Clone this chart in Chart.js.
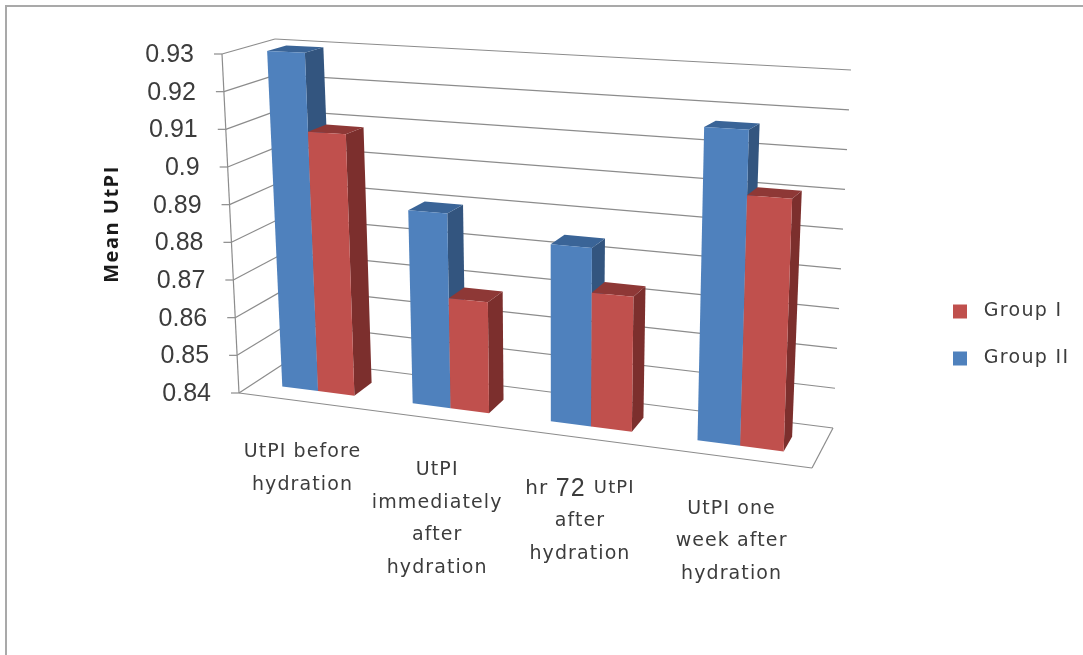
<!DOCTYPE html>
<html>
<head>
<meta charset="utf-8">
<script src="https://cdn.jsdelivr.net/npm/chart.js@4"></script>
<style>
  html, body { margin: 0; padding: 0; background: #fff; overflow: hidden; }
  #frame { position: absolute; left: 5px; top: 5px; width: 1078px; height: 650px; border-top: 2px solid #a9a9a9; border-left: 2px solid #a9a9a9; box-sizing: border-box; }
  #chart { position: absolute; left: 0; top: 0; filter: blur(0.5px); }
</style>
</head>
<body>
<div id="frame"></div>
<canvas id="chart" width="1083" height="655"></canvas>
<script>
const categories = [
    ['UtPI before', 'hydration'],
    ['UtPI', 'immediately', 'after', 'hydration'],
    ['hr 72 UtPI', 'after', 'hydration'],
    ['UtPI one', 'week after', 'hydration']
];
const groupII = [0.93, 0.8903, 0.8847, 0.9167];
const groupI = [0.909, 0.8684, 0.8735, 0.9008];
const yTicks = [0.84, 0.85, 0.86, 0.87, 0.88, 0.89, 0.9, 0.91, 0.92, 0.93];
const axisTitle = 'Mean UtPI';

// corners of the 3d box as seen in the picture, the scales are mapped onto it
const front = { tl: [222, 54], tr: [825, 83], bl: [239, 393], br: [812, 468] };
const back = { tl: [275, 39], tr: [851, 70], bl: [291, 359], br: [833, 428] };
const xPerspective = 1.126;
const barDepth = [0.3, 0.67];

const lerp = (a, b, t) => a + (b - a) * t;
const lerpPt = (a, b, t) => [lerp(a[0], b[0], t), lerp(a[1], b[1], t)];

function project(xn, yn, z) {
    const xt = xn / (xn + xPerspective * (1 - xn));
    const onPlane = (p) => lerpPt(lerpPt(p.bl, p.br, xt), lerpPt(p.tl, p.tr, xt), yn);
    return lerpPt(onPlane(front), onPlane(back), z);
}

function poly(ctx, pts, color) {
    ctx.beginPath();
    pts.forEach((p, i) => i ? ctx.lineTo(p[0], p[1]) : ctx.moveTo(p[0], p[1]));
    ctx.closePath();
    ctx.fillStyle = color;
    ctx.fill();
}

function line(ctx, a, b) {
    ctx.beginPath();
    ctx.moveTo(a[0], a[1]);
    ctx.lineTo(b[0], b[1]);
    ctx.stroke();
}

// the "72" in the third label is set bigger in the original
function labelLine(ctx, txt, x, y) {
    const parts = txt.split(/(72 )/);
    if (parts.length === 1) {
        ctx.font = '19px "DejaVu Sans"';
        ctx.fillText(txt, x, y);
        return;
    }
    const fonts = ['20px "DejaVu Sans"', '25px "Liberation Sans"', '18px "DejaVu Sans"'];
    const widths = parts.map((p, i) => { ctx.font = fonts[i]; return ctx.measureText(p).width; });
    let cx = x - widths.reduce((a, b) => a + b, 0) / 2;
    ctx.textAlign = 'left';
    parts.forEach((p, i) => {
        ctx.font = fonts[i];
        ctx.fillText(p, cx, y);
        cx += widths[i];
    });
    ctx.textAlign = 'center';
}

const box3d = {
    id: 'box3d',
    afterLayout(chart) {
        // legend sits lower than the plot
        const lg = chart.legend;
        lg.left = 953 - lg.options.labels.padding;
        lg.top = 235;
        lg.bottom = 435;
    },
    beforeDraw(chart) {
        chart.ctx.letterSpacing = '1.3px';
    },
    beforeDatasetsDraw(chart) {
        const { ctx, chartArea: area, scales } = chart;
        const xn = (px) => (px - area.left) / (area.right - area.left);
        const yn = (px) => (area.bottom - px) / (area.bottom - area.top);

        // walls and floor
        ctx.save();
        ctx.strokeStyle = '#8c8c8c';
        ctx.lineWidth = 1.2;
        yTicks.forEach((v) => {
            const t = yn(scales.y.getPixelForValue(v));
            const a = project(0, t, 0);
            const b = project(0, t, 1);
            const c = project(1, t, 1);
            line(ctx, [a[0] - 8, a[1]], a);
            line(ctx, a, b);
            line(ctx, b, c);
        });
        line(ctx, project(0, 0, 0), project(0, 1, 0));
        line(ctx, project(0, 0, 0), project(1, 0, 0));
        line(ctx, project(1, 0, 0), project(1, 0, 1));
        ctx.restore();

        // bars, left to right so the later ones cover the side of the earlier ones
        const faces = [
            { front: '#4f81bd', side: '#33557f', top: '#3a6497' },
            { front: '#c0504d', side: '#7c2f2d', top: '#8e3836' }
        ];
        categories.forEach((_, j) => {
            chart.data.datasets.forEach((ds, i) => {
                const bar = chart.getDatasetMeta(i).data[j];
                const x0 = xn(bar.x - bar.width / 2);
                const x1 = xn(bar.x + bar.width / 2);
                const top = yn(bar.y);
                const [z0, z1] = barDepth;
                poly(ctx, [project(x1, 0, z0), project(x1, 0, z1), project(x1, top, z1), project(x1, top, z0)], faces[i].side);
                poly(ctx, [project(x0, top, z0), project(x1, top, z0), project(x1, top, z1), project(x0, top, z1)], faces[i].top);
                poly(ctx, [project(x0, 0, z0), project(x1, 0, z0), project(x1, top, z0), project(x0, top, z0)], faces[i].front);
            });
        });

        // tick labels follow the slanted axis
        ctx.save();
        ctx.fillStyle = '#3c3c3c';
        ctx.textBaseline = 'middle';
        ctx.textAlign = 'right';
        ctx.letterSpacing = '0px';
        ctx.font = '25px "Liberation Sans"';
        yTicks.forEach((v) => {
            const a = project(0, yn(scales.y.getPixelForValue(v)), 0);
            ctx.fillText(String(v), a[0] - 28, a[1] + 1);
        });

        ctx.textAlign = 'center';
        ctx.letterSpacing = '1.1px';
        categories.forEach((lines, j) => {
            const a = project(xn(scales.x.getPixelForValue(j)), 0, 0);
            lines.forEach((txt, k) => labelLine(ctx, txt, a[0] - 1, a[1] + 51 + k * 32.5));
        });

        ctx.translate(112, 224);
        ctx.rotate(-Math.PI / 2);
        ctx.fillStyle = '#1a1a1a';
        ctx.letterSpacing = '1.5px';
        ctx.font = 'bold 20px "Open Sans"';
        ctx.fillText(axisTitle, 0, 0);
        ctx.restore();
        return false;
    }
};

new Chart(document.getElementById('chart'), {
    type: 'bar',
    data: {
        labels: categories,
        datasets: [
            { label: ' Group II', data: groupII, backgroundColor: '#4f81bd', categoryPercentage: 0.56, barPercentage: 1 },
            { label: ' Group I', data: groupI, backgroundColor: '#c0504d', categoryPercentage: 0.56, barPercentage: 1 }
        ]
    },
    options: {
        responsive: false,
        animation: false,
        layout: { padding: { top: 54, bottom: 262, left: 120 } },
        plugins: {
            tooltip: { enabled: false },
            legend: {
                position: 'right',
                reverse: true,
                labels: { boxWidth: 14, boxHeight: 14, padding: 28, color: '#3c3c3c', font: { family: 'DejaVu Sans', size: 19 } }
            }
        },
        scales: {
            x: { display: false, grid: { display: false } },
            y: {
                display: false,
                min: 0.84,
                max: 0.93,
                afterBuildTicks: (scale) => { scale.ticks = yTicks.map((value) => ({ value })); },
                grid: { display: false }
            }
        }
    },
    plugins: [box3d]
});
</script>
</body>
</html>
